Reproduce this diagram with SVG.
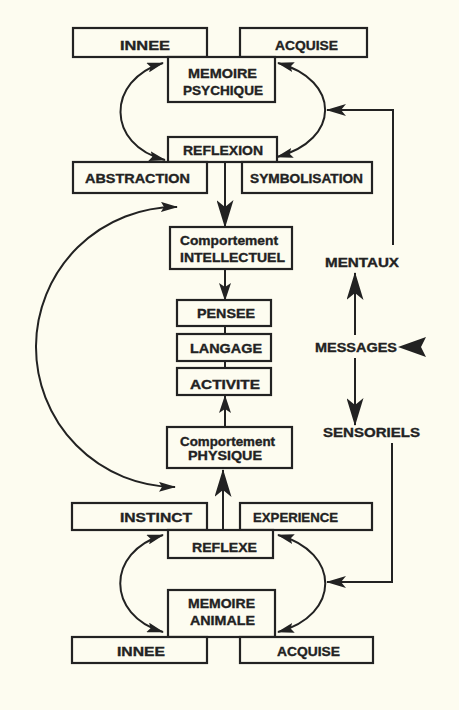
<svg xmlns="http://www.w3.org/2000/svg" width="459" height="710" viewBox="0 0 459 710">
<style>
.bg{fill:#fdfcf0}
.box{fill:#fdfcf0;stroke:#222;stroke-width:2.2}
.ln{fill:none;stroke:#222;stroke-width:2}
.t{font-family:"Liberation Sans",Arial,sans-serif;font-weight:bold;font-size:13px;fill:#222;stroke:#222;stroke-width:0.35}
.ah{fill:#222}
</style>
<defs>
<marker id="big" markerUnits="userSpaceOnUse" markerWidth="28" markerHeight="17" viewBox="0 0 28 17" refX="27" refY="8.5" orient="auto-start-reverse"><path class="ah" d="M28,8.5 L0,0 L7,8.5 L0,17 Z"/></marker>
<marker id="small" markerUnits="userSpaceOnUse" markerWidth="18" markerHeight="12" viewBox="0 0 18 12" refX="17" refY="6" orient="auto-start-reverse"><path class="ah" d="M18,6 L0,0 L4,6 L0,12 Z"/></marker>
<marker id="mid" markerUnits="userSpaceOnUse" markerWidth="20" markerHeight="12" viewBox="0 0 20 12" refX="19" refY="6" orient="auto-start-reverse"><path class="ah" d="M20,6 L0,0 L5,6 L0,12 Z"/></marker>
<marker id="cur" markerUnits="userSpaceOnUse" markerWidth="17" markerHeight="10" viewBox="0 0 17 10" refX="16" refY="5" orient="auto-start-reverse"><path class="ah" d="M17,5 L0,0 L3,5 L0,10 Z"/></marker>
</defs>
<rect class="bg" x="0" y="0" width="459" height="710"/>

<g id="connectors">
<path class="ln" d="M225,162 V227" marker-end="url(#big)"/>
<path class="ln" d="M225,269 V300" marker-end="url(#small)"/>
<path class="ln" d="M225,326 V334"/>
<path class="ln" d="M225,361 V368"/>
<path class="ln" d="M225,427 V396" marker-end="url(#small)"/>
<path class="ln" d="M223,530 V470" marker-end="url(#big)"/>
<path class="ln" d="M163,63 C106,80 106,145 165,160" marker-start="url(#cur)" marker-end="url(#cur)"/>
<path class="ln" d="M278,63 C341,80 341,140 277,157" marker-start="url(#cur)" marker-end="url(#cur)"/>
<path class="ln" d="M163,535 C106,552 106,615 163,632" marker-start="url(#cur)" marker-end="url(#cur)"/>
<path class="ln" d="M278,535 C341,552 341,615 278,632" marker-start="url(#cur)" marker-end="url(#cur)"/>
<path class="ln" d="M177,207 A140,140 0 0 0 175,487" marker-start="url(#cur)" marker-end="url(#cur)"/>
<path class="ln" d="M393,245 V110 H327" marker-end="url(#mid)"/>
<path class="ln" d="M392,443 V582 H327" marker-end="url(#mid)"/>
<path class="ln" d="M355,335 V273" marker-end="url(#big)"/>
<path class="ln" d="M355,358 V425" marker-end="url(#big)"/>
<polygon class="ah" points="398,347 426,337 421,347 426,357"/>
</g>

<g id="innee-top"><rect class="box" x="73" y="28" width="134" height="29"/><text class="t" x="120" y="50" textLength="50" lengthAdjust="spacingAndGlyphs">INNEE</text></g>
<g id="acquise-top"><rect class="box" x="240" y="28" width="127" height="29"/><text class="t" x="275" y="50" textLength="63" lengthAdjust="spacingAndGlyphs">ACQUISE</text></g>
<g id="memoire-psychique"><rect class="box" x="168" y="57" width="107" height="45"/><text class="t" x="188" y="78" textLength="69" lengthAdjust="spacingAndGlyphs">MEMOIRE</text><text class="t" x="183" y="95" textLength="80" lengthAdjust="spacingAndGlyphs">PSYCHIQUE</text></g>
<g id="reflexion"><rect class="box" x="168" y="137" width="109" height="25"/><text class="t" x="183" y="155" textLength="80" lengthAdjust="spacingAndGlyphs">REFLEXION</text></g>
<g id="abstraction"><rect class="box" x="73" y="162" width="134" height="31"/><text class="t" x="85" y="183" textLength="105" lengthAdjust="spacingAndGlyphs">ABSTRACTION</text></g>
<g id="symbolisation"><rect class="box" x="242" y="162" width="130" height="31"/><text class="t" x="250" y="183" textLength="113" lengthAdjust="spacingAndGlyphs">SYMBOLISATION</text></g>
<g id="intellectuel"><rect class="box" x="170" y="227" width="122" height="42"/><text class="t" x="180" y="245" textLength="98" lengthAdjust="spacingAndGlyphs">Comportement</text><text class="t" x="180" y="262" textLength="105" lengthAdjust="spacingAndGlyphs">INTELLECTUEL</text></g>
<g id="pensee"><rect class="box" x="177" y="300" width="94" height="26"/><text class="t" x="197" y="318" textLength="58" lengthAdjust="spacingAndGlyphs">PENSEE</text></g>
<g id="langage"><rect class="box" x="177" y="334" width="94" height="27"/><text class="t" x="190" y="353" textLength="72" lengthAdjust="spacingAndGlyphs">LANGAGE</text></g>
<g id="activite"><rect class="box" x="177" y="368" width="94" height="27"/><text class="t" x="190" y="389" textLength="70" lengthAdjust="spacingAndGlyphs">ACTIVITE</text></g>
<g id="physique"><rect class="box" x="167" y="427" width="125" height="41"/><text class="t" x="180" y="446" textLength="95" lengthAdjust="spacingAndGlyphs">Comportement</text><text class="t" x="188" y="460" textLength="74" lengthAdjust="spacingAndGlyphs">PHYSIQUE</text></g>
<g id="mentaux"><text class="t" x="325" y="267" textLength="74" lengthAdjust="spacingAndGlyphs">MENTAUX</text></g>
<g id="messages"><text class="t" x="315" y="352" textLength="82" lengthAdjust="spacingAndGlyphs">MESSAGES</text></g>
<g id="sensoriels"><text class="t" x="323" y="437" textLength="97" lengthAdjust="spacingAndGlyphs">SENSORIELS</text></g>
<g id="instinct"><rect class="box" x="72" y="503" width="135" height="27"/><text class="t" x="120" y="522" textLength="72" lengthAdjust="spacingAndGlyphs">INSTINCT</text></g>
<g id="experience"><rect class="box" x="240" y="503" width="132" height="27"/><text class="t" x="253" y="522" textLength="85" lengthAdjust="spacingAndGlyphs">EXPERIENCE</text></g>
<g id="reflexe"><rect class="box" x="168" y="530" width="105" height="28"/><text class="t" x="192" y="552" textLength="65" lengthAdjust="spacingAndGlyphs">REFLEXE</text></g>
<g id="memoire-animale"><rect class="box" x="168" y="590" width="107" height="47"/><text class="t" x="188" y="608" textLength="67" lengthAdjust="spacingAndGlyphs">MEMOIRE</text><text class="t" x="190" y="625" textLength="65" lengthAdjust="spacingAndGlyphs">ANIMALE</text></g>
<g id="innee-bottom"><rect class="box" x="72" y="637" width="135" height="26"/><text class="t" x="117" y="656" textLength="48" lengthAdjust="spacingAndGlyphs">INNEE</text></g>
<g id="acquise-bottom"><rect class="box" x="240" y="637" width="133" height="26"/><text class="t" x="277" y="656" textLength="63" lengthAdjust="spacingAndGlyphs">ACQUISE</text></g>
</svg>
